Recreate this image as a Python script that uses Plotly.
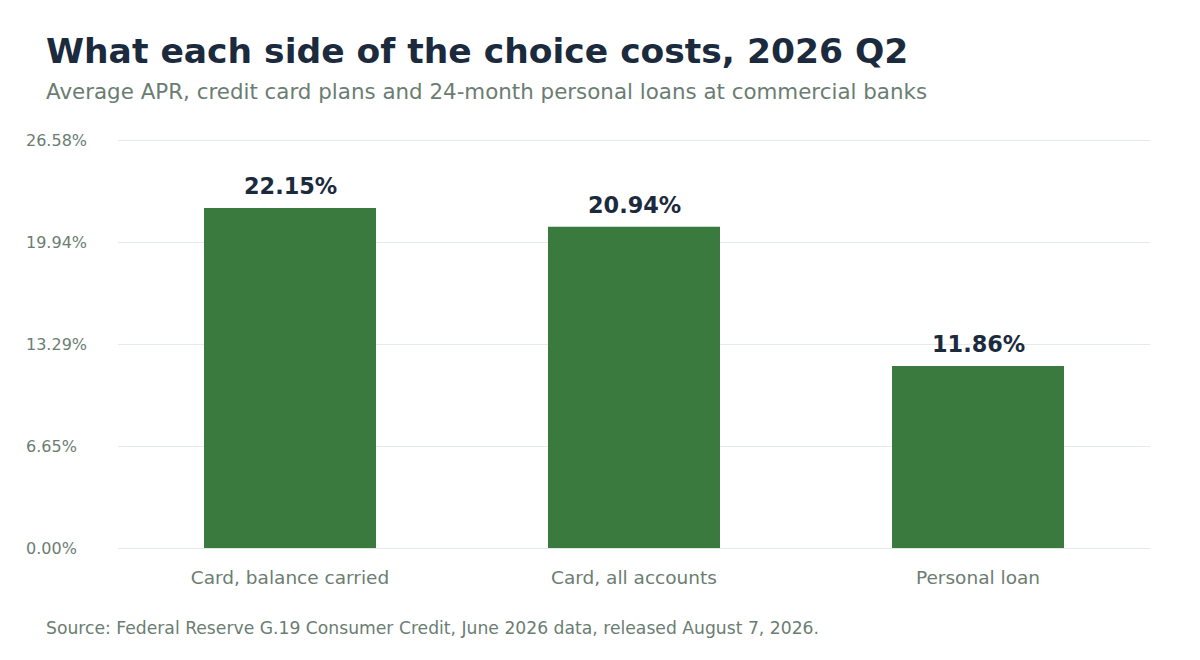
import plotly.graph_objects as go

categories = ["Card, balance carried", "Card, all accounts", "Personal loan"]
apr_values = [22.15, 20.94, 11.86]
tick_values = [0.0, 6.645, 13.29, 19.935, 26.58]
tick_labels = ["0.00%", "6.65%", "13.29%", "19.94%", "26.58%"]

FONT = "DejaVu Sans"
DARK = "#1b2a3d"
GRAY = "#6b7d72"
GREEN = "#3b7a3f"
GRID = "#e4eaea"

ML, MR, MT, MB = 118, 50, 139, 112
plot_w = 1200 - ML - MR
plot_h = 660 - MT - MB

fig = go.Figure()
fig.add_trace(go.Bar(
    x=categories,
    y=apr_values,
    marker=dict(color=GREEN, line=dict(width=0)),
    hoverinfo="skip",
))

# value labels above bars
for c, v in zip(categories, apr_values):
    fig.add_annotation(
        x=c, y=v, xref="x", yref="y", text=f"<b>{v:.2f}%</b>",
        showarrow=False, yanchor="middle", yshift=22,
        font=dict(family=FONT, size=22.4, color=DARK),
    )

# left-aligned y tick labels
for tv, tl in zip(tick_values, tick_labels):
    fig.add_annotation(
        x=(26 - ML) / plot_w, xref="paper", y=tv, yref="y", xshift=-2,
        text=tl, showarrow=False, xanchor="left", yanchor="middle",
        font=dict(family=FONT, size=16, color=GRAY),
    )

fig.add_annotation(
    x=(46 - ML) / plot_w, xref="paper", y=(660 - MB - 92) / plot_h, yref="paper",
    xshift=-2, showarrow=False,
    text="Average APR, credit card plans and 24-month personal loans at commercial banks",
    font=dict(family=FONT, size=21.4, color=GRAY),
    xanchor="left", yanchor="middle",
)
fig.add_annotation(
    x=(46 - ML) / plot_w, xref="paper", y=(660 - MB - 628) / plot_h, yref="paper",
    xshift=-2, showarrow=False,
    text="Source: Federal Reserve G.19 Consumer Credit, June 2026 data, released August 7, 2026.",
    font=dict(family=FONT, size=17.2, color=GRAY),
    xanchor="left", yanchor="middle",
)

fig.update_layout(
    width=1200, height=660,
    paper_bgcolor="white", plot_bgcolor="white",
    margin=dict(l=ML, r=MR, t=MT, b=MB),
    bargap=0.5,
    showlegend=False,
    hovermode=False,
    title=dict(
        text="<b>What each side of the choice costs, 2026 Q2</b>",
        x=46 / 1200, xanchor="left", xref="container",
        y=1 - 51 / 660, yanchor="middle", yref="container",
        font=dict(family=FONT, size=34.5, color=DARK),
    ),
    xaxis=dict(
        showgrid=False, zeroline=False, showline=False, ticks="",
        tickfont=dict(family=FONT, size=18.5, color=GRAY),
        ticklabelstandoff=16,
    ),
    yaxis=dict(
        range=[0, 26.65], tickvals=tick_values, showticklabels=False,
        showgrid=True, gridcolor=GRID, gridwidth=1,
        zeroline=True, zerolinecolor=GRID, zerolinewidth=1, showline=False,
    ),
)

fig.write_html(
    "out.html",
    config={"displayModeBar": False},
    post_script="document.body.style.margin='0';document.body.style.padding='0';",
)
